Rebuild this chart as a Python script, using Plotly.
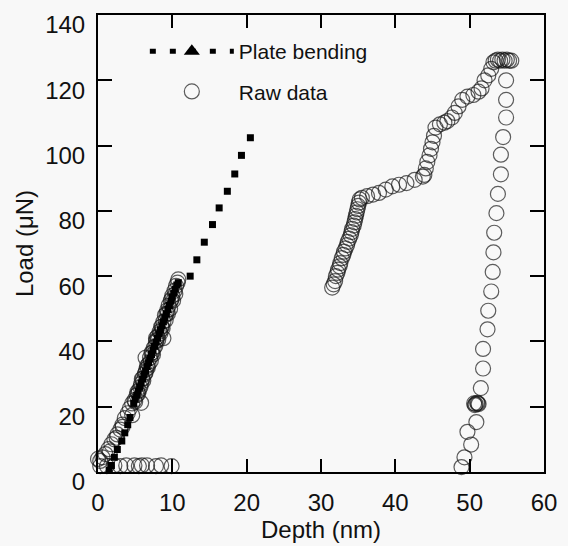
import plotly.graph_objects as go

# ---- Raw data (depth nm, load uN) ----
raw_depth = [
    # baseline row near zero load
    0.3, 1.2, 2.2, 3.0, 3.8, 4.9, 5.5, 5.9, 6.6, 7.8, 8.5, 9.9,
    # initial loading
    0.0, 0.3, 0.6, 1.0, 1.4, 1.6, 1.8, 2.2, 2.5, 2.6, 3.0, 3.3, 3.3, 3.6, 4.0, 4.3, 4.6, 4.6,
    4.9, 5.2, 5.5, 5.8, 5.8, 6.0, 6.3, 6.4, 6.5, 6.8, 7.0, 7.3, 7.5, 7.8, 7.8, 8.0, 8.3,
    8.5, 8.8, 9.0, 9.3, 9.5, 8.8, 9.8, 10.0, 10.3, 10.5, 10.7, 10.8,
    5.0, 5.4, 5.7, 6.1, 6.4, 6.7, 7.1, 7.4, 7.7, 8.1, 8.4, 8.7, 9.1, 9.4, 9.7, 10.1, 10.4,
    5.3, 5.9, 6.6, 7.2, 7.9, 8.6, 9.2, 9.9,
    # second loading segment
    31.5, 31.7, 31.9, 32.0, 32.2, 32.3, 32.5, 32.6, 32.8, 33.0, 33.1, 33.3, 33.5, 33.6,
    33.8, 34.0, 34.1, 34.2, 34.4, 34.5, 34.6, 34.7, 34.8, 34.9, 35.0, 35.1, 35.2, 35.5,
    36.2, 37.0, 37.8, 38.7, 39.6, 40.5, 41.5, 42.6, 43.7, 43.9, 44.1, 44.3, 44.6, 44.8,
    45.0, 45.2, 45.4, 46.0, 46.6, 47.0, 47.6, 48.0, 48.5, 49.0, 49.7, 50.5, 51.2, 51.6,
    52.0, 52.5, 52.9, 53.2, 53.5, 53.8, 54.1, 54.4, 54.7, 55.0, 55.3, 55.6,
    # unloading
    54.9, 54.9, 54.9, 54.5, 54.2, 54.2, 53.8, 53.6, 53.3, 53.2, 53.1, 52.9, 52.5, 52.4,
    51.8, 51.8, 51.5, 50.6, 50.8, 51.0, 51.2, 50.7, 51.1, 50.9, 49.7, 50.2, 49.3, 48.9,
]
raw_load = [
    1.8, 1.8, 2.0, 1.8, 2.0, 2.0, 1.8, 2.0, 2.0, 1.8, 2.0, 1.8,
    4.0, 3.4, 4.5, 5.5, 7.0, 6.3, 8.5, 10.0, 10.5, 11.5, 13.0, 13.8, 14.5, 16.5, 18.0, 19.5, 17.4, 21.0,
    22.0, 23.5, 25.0, 21.2, 27.0, 28.5, 30.0, 35.0, 31.5, 33.0, 35.0, 36.5, 38.0, 40.0, 41.0, 41.5, 43.0,
    44.5, 46.0, 48.0, 49.5, 51.0, 41.0, 52.5, 54.0, 55.5, 57.0, 58.0, 59.0,
    21.5, 24.0, 26.0, 28.0, 30.5, 32.0, 34.0, 36.0, 38.5, 40.5, 42.5, 44.0, 46.5, 48.5, 50.0, 52.5, 54.5,
    24.5, 28.5, 32.5, 36.5, 40.5, 44.5, 48.5, 53.0,
    56.5, 57.5, 58.5, 60.0, 61.0, 62.0, 63.0, 64.0, 65.5, 66.5, 67.5, 68.5, 69.5, 70.5,
    71.5, 72.5, 73.5, 74.5, 75.5, 76.5, 77.5, 78.5, 79.5, 80.5, 81.5, 82.5, 83.5, 84.0,
    84.5, 85.0, 85.5, 86.5, 87.5, 88.0, 88.5, 89.5, 90.5, 91.0, 93.0, 95.0, 97.0, 99.0,
    101.0, 103.0, 105.5, 106.5, 107.0, 107.5, 108.6, 110.0, 112.0, 114.0, 115.0, 115.5, 116.5, 117.5,
    120.0, 121.5, 123.5, 125.5, 126.0, 126.3, 126.0, 126.3, 126.0, 126.3, 126.0, 126.0,
    120.0, 114.0, 108.6, 102.6, 97.2, 91.2, 85.2, 79.3, 73.3, 67.3, 61.3, 55.3, 49.4, 43.7,
    37.7, 31.7, 25.7, 21.0, 20.8, 21.2, 20.8, 20.5, 21.0, 15.3, 12.3, 8.4, 4.5, 1.5,
]

# ---- Plate bending model ----
plate_depth = [
    1.5, 1.8, 2.2, 2.6, 3.2, 3.6, 4.0, 4.3,
    4.8, 5.0, 5.2, 5.4, 5.6, 5.8, 6.0, 6.2, 6.4, 6.6, 6.8, 7.0, 7.2, 7.4, 7.6, 7.8,
    8.0, 8.2, 8.4, 8.6, 8.8, 9.0, 9.2, 9.4, 9.6, 9.8, 10.0, 10.2, 10.4, 10.6, 10.8,
    12.4, 13.3, 14.3, 15.4, 16.3, 17.4, 18.4, 19.3, 20.5,
]
plate_load = [
    0.5, 2.0, 4.5, 6.9, 9.5, 12.0, 14.5, 16.7,
    21.0, 22.3, 23.5, 24.8, 26.0, 27.3, 28.5, 29.8, 31.0, 32.3, 33.5, 34.8, 36.0, 37.3, 38.5, 39.8,
    41.0, 42.3, 43.5, 44.8, 46.0, 47.3, 48.5, 49.8, 51.0, 52.3, 53.5, 54.8, 56.0, 57.3, 58.0,
    60.0, 65.0, 70.4, 75.8, 80.9, 86.0, 91.3, 97.0, 102.4,
]

x_ticks = [0, 10, 20, 30, 40, 50, 60]
y_ticks = [0, 20, 40, 60, 80, 100, 120, 140]

FONT = "Liberation Sans, Arial, Helvetica, sans-serif"

fig = go.Figure()

fig.add_trace(go.Scatter(
    x=raw_depth, y=raw_load, mode="markers", name="Raw data",
    marker=dict(symbol="circle-open", size=15, color="rgba(25,25,25,0.7)",
                line=dict(width=1.2, color="rgba(25,25,25,0.7)")),
    cliponaxis=False, showlegend=True, legendrank=2, legendgroup="b",
))

fig.add_trace(go.Scatter(
    x=plate_depth, y=plate_load, mode="markers", name="Plate bending",
    marker=dict(symbol="square", size=7, color="black"),
    cliponaxis=False, showlegend=False,
))

# legend entry for plate bending (dotted line with triangle)
fig.add_trace(go.Scatter(
    x=[None], y=[None], mode="lines+markers", name="Plate bending",
    line=dict(color="black", width=5, dash="6px,14px"),
    marker=dict(symbol="triangle-up", size=14, color="black"),
    showlegend=True, legendrank=1, legendgroup="a",
))

axis_common = dict(
    showline=True, linecolor="black", linewidth=2, mirror="ticks",
    ticks="inside", tickcolor="black", tickwidth=2,
    showgrid=False, zeroline=False,
    tickfont=dict(family=FONT, size=24, color="#111"),
)

fig.update_xaxes(
    range=[x_ticks[0], x_ticks[-1]], tickmode="array", tickvals=x_ticks, ticklen=13,
    ticklabelstandoff=8,
    title=dict(text="Depth (nm)", font=dict(family=FONT, size=24, color="#111"), standoff=2),
    **axis_common,
)
fig.update_yaxes(
    range=[y_ticks[0], y_ticks[-1]], tickmode="array", tickvals=y_ticks, ticklen=14,
    ticklabelshift=10, ticklabelstandoff=6,
    title=dict(text="Load (\u03bcN)", font=dict(family=FONT, size=24, color="#111"), standoff=5),
    **axis_common,
)

fig.update_layout(
    width=568, height=546,
    margin=dict(l=98, r=14, t=11, b=68),
    paper_bgcolor="#f8f8f8", plot_bgcolor="#f8f8f8",
    legend=dict(x=0.105, y=0.965, xanchor="left", yanchor="top",
                bgcolor="rgba(0,0,0,0)", font=dict(family=FONT, size=21, color="#111"),
                itemwidth=84, tracegroupgap=10),
)

fig.write_html("out.html")
